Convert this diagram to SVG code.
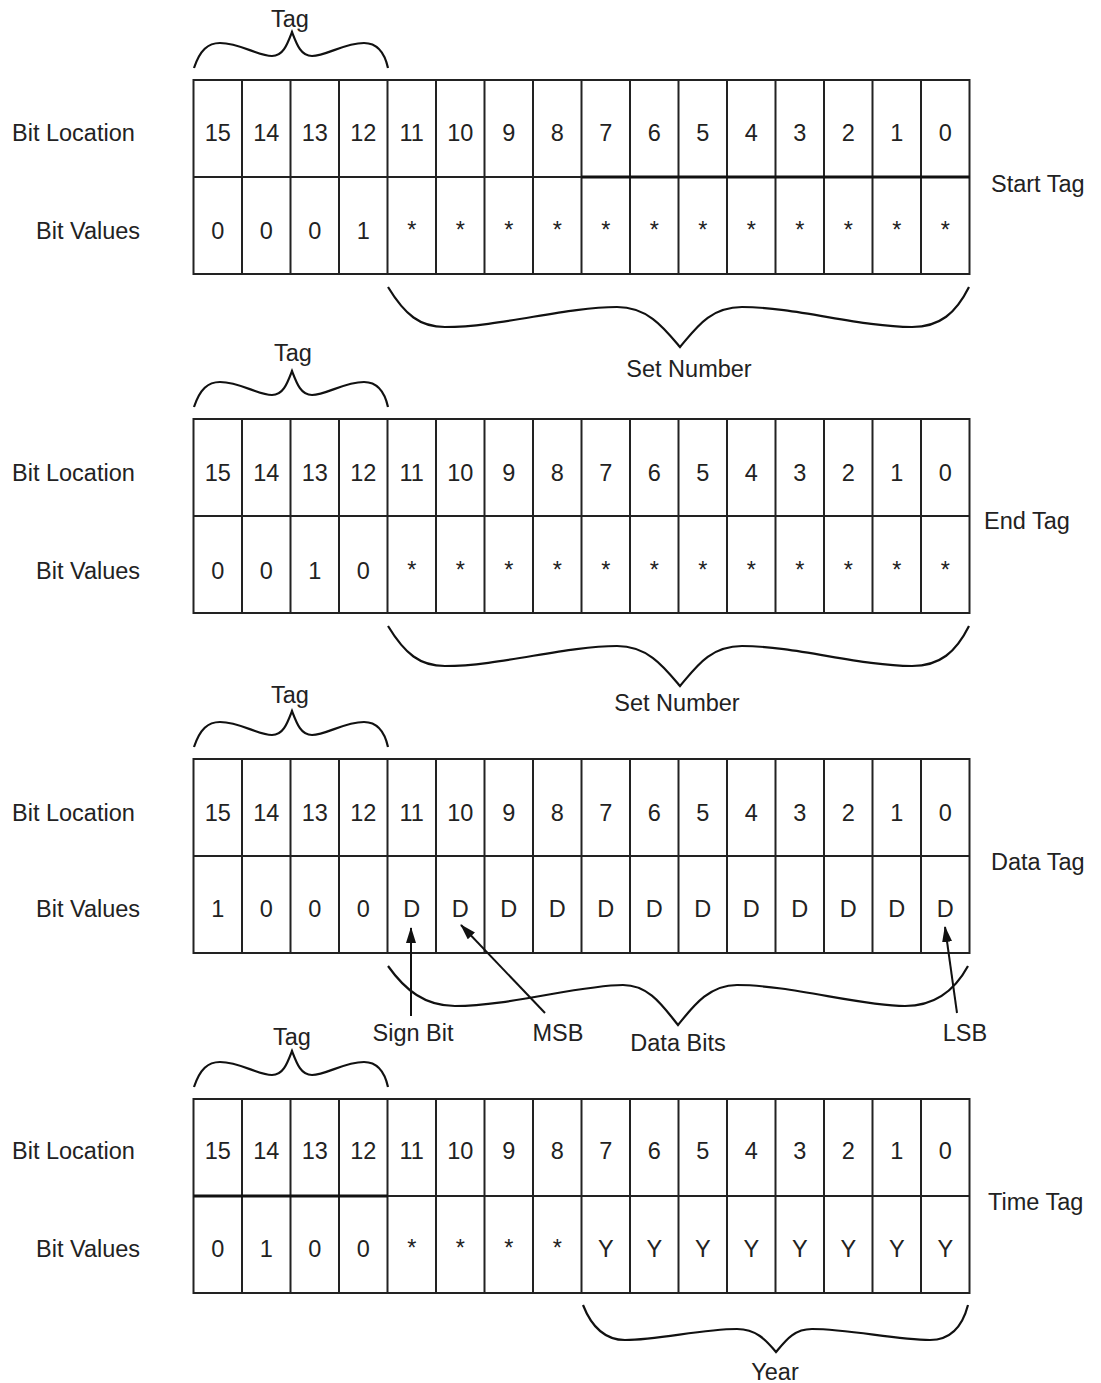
<svg xmlns="http://www.w3.org/2000/svg" xmlns:xlink="http://www.w3.org/1999/xlink" width="1101" height="1383" viewBox="0 0 1101 1383">
<style>
text{font-family:"Liberation Sans",Arial,Helvetica,sans-serif;font-size:23.5px;fill:#222}
.c{text-anchor:middle}
.g{fill:none;stroke:#222;stroke-width:2}
.thick{stroke:#111;stroke-width:3}
.brace{fill:none;stroke:#111;stroke-width:2.2}
.arrow{stroke:#111;stroke-width:2;fill:none;marker-end:url(#ah)}
</style>
<defs>
<marker id="ah" markerWidth="16" markerHeight="10" refX="15" refY="5" orient="auto" markerUnits="userSpaceOnUse">
<path d="M0,0 L16,5 L0,10 Z" fill="#111"/>
</marker>
<g id="grid">
<rect class="g" x="193.5" y="0" width="776" height="194"/>
<path class="g" d="M193.5,97H969.5M242,0V194M290.5,0V194M339,0V194M387.5,0V194M436,0V194M484.5,0V194M533,0V194M581.5,0V194M630,0V194M678.5,0V194M727,0V194M775.5,0V194M824,0V194M872.5,0V194M921,0V194"/>
</g>
<path id="tagbrace" class="brace" d="M194,68 C200,50 208,43 220,43 C240,43 258,56 272,56 C283,56 287,45 292,32 C297,45 301,56 312,56 C326,56 344,43 364,43 C376,43 384,50 388,68"/>
<path id="setbrace" class="brace" d="M388,287 C405,315 420,327 445,327 C500,327 565,307 617,307 C648,307 664,328 680,347 C696,328 710,307 742,307 C795,307 860,327 912,327 C940,327 956,313 969,287"/>
</defs>

<g id="start-tag">
<use xlink:href="#grid" y="80"/>
<path class="thick" d="M581.5,177H969.5"/>
<text x="12" y="141">Bit Location</text>
<text x="36" y="239">Bit Values</text>
<text x="991" y="192">Start Tag</text>
<g class="c">
<text x="217.75" y="141">15</text><text x="266.25" y="141">14</text><text x="314.75" y="141">13</text><text x="363.25" y="141">12</text><text x="411.75" y="141">11</text><text x="460.25" y="141">10</text><text x="508.75" y="141">9</text><text x="557.25" y="141">8</text><text x="605.75" y="141">7</text><text x="654.25" y="141">6</text><text x="702.75" y="141">5</text><text x="751.25" y="141">4</text><text x="799.75" y="141">3</text><text x="848.25" y="141">2</text><text x="896.75" y="141">1</text><text x="945.25" y="141">0</text>
<text x="217.75" y="239">0</text><text x="266.25" y="239">0</text><text x="314.75" y="239">0</text><text x="363.25" y="239">1</text><text x="411.75" y="238">*</text><text x="460.25" y="238">*</text><text x="508.75" y="238">*</text><text x="557.25" y="238">*</text><text x="605.75" y="238">*</text><text x="654.25" y="238">*</text><text x="702.75" y="238">*</text><text x="751.25" y="238">*</text><text x="799.75" y="238">*</text><text x="848.25" y="238">*</text><text x="896.75" y="238">*</text><text x="945.25" y="238">*</text>
</g>
<use xlink:href="#tagbrace"/>
<text class="c" x="290" y="27">Tag</text>
<use xlink:href="#setbrace"/>
<text class="c" x="689" y="377">Set Number</text>
</g>

<g id="end-tag">
<use xlink:href="#grid" y="419"/>
<text x="12" y="481">Bit Location</text>
<text x="36" y="579">Bit Values</text>
<text x="984" y="529">End Tag</text>
<g class="c">
<text x="217.75" y="481">15</text><text x="266.25" y="481">14</text><text x="314.75" y="481">13</text><text x="363.25" y="481">12</text><text x="411.75" y="481">11</text><text x="460.25" y="481">10</text><text x="508.75" y="481">9</text><text x="557.25" y="481">8</text><text x="605.75" y="481">7</text><text x="654.25" y="481">6</text><text x="702.75" y="481">5</text><text x="751.25" y="481">4</text><text x="799.75" y="481">3</text><text x="848.25" y="481">2</text><text x="896.75" y="481">1</text><text x="945.25" y="481">0</text>
<text x="217.75" y="579">0</text><text x="266.25" y="579">0</text><text x="314.75" y="579">1</text><text x="363.25" y="579">0</text><text x="411.75" y="578">*</text><text x="460.25" y="578">*</text><text x="508.75" y="578">*</text><text x="557.25" y="578">*</text><text x="605.75" y="578">*</text><text x="654.25" y="578">*</text><text x="702.75" y="578">*</text><text x="751.25" y="578">*</text><text x="799.75" y="578">*</text><text x="848.25" y="578">*</text><text x="896.75" y="578">*</text><text x="945.25" y="578">*</text>
</g>
<use xlink:href="#tagbrace" y="339"/>
<text class="c" x="293" y="361">Tag</text>
<use xlink:href="#setbrace" y="339"/>
<text class="c" x="677" y="711">Set Number</text>
</g>

<g id="data-tag">
<use xlink:href="#grid" y="759"/>
<text x="12" y="821">Bit Location</text>
<text x="36" y="917">Bit Values</text>
<text x="991" y="870">Data Tag</text>
<g class="c">
<text x="217.75" y="821">15</text><text x="266.25" y="821">14</text><text x="314.75" y="821">13</text><text x="363.25" y="821">12</text><text x="411.75" y="821">11</text><text x="460.25" y="821">10</text><text x="508.75" y="821">9</text><text x="557.25" y="821">8</text><text x="605.75" y="821">7</text><text x="654.25" y="821">6</text><text x="702.75" y="821">5</text><text x="751.25" y="821">4</text><text x="799.75" y="821">3</text><text x="848.25" y="821">2</text><text x="896.75" y="821">1</text><text x="945.25" y="821">0</text>
<text x="217.75" y="917">1</text><text x="266.25" y="917">0</text><text x="314.75" y="917">0</text><text x="363.25" y="917">0</text><text x="411.75" y="917">D</text><text x="460.25" y="917">D</text><text x="508.75" y="917">D</text><text x="557.25" y="917">D</text><text x="605.75" y="917">D</text><text x="654.25" y="917">D</text><text x="702.75" y="917">D</text><text x="751.25" y="917">D</text><text x="799.75" y="917">D</text><text x="848.25" y="917">D</text><text x="896.75" y="917">D</text><text x="945.25" y="917">D</text>
</g>
<use xlink:href="#tagbrace" y="679"/>
<text class="c" x="290" y="703">Tag</text>
<path class="brace" d="M388,966 C405,990 425,1006 455,1006 C510,1006 580,985 623,985 C650,985 664,1008 678,1025 C692,1008 708,985 737,985 C790,985 860,1006 905,1006 C935,1006 955,990 968,966"/>
<text class="c" x="413" y="1041">Sign Bit</text>
<text class="c" x="558" y="1041">MSB</text>
<text class="c" x="678" y="1051">Data Bits</text>
<text class="c" x="965" y="1041">LSB</text>
</g>

<g id="time-tag">
<use xlink:href="#grid" y="1099"/>
<path class="thick" d="M193.5,1196H387.5"/>
<text x="12" y="1159">Bit Location</text>
<text x="36" y="1257">Bit Values</text>
<text x="988" y="1210">Time Tag</text>
<g class="c">
<text x="217.75" y="1159">15</text><text x="266.25" y="1159">14</text><text x="314.75" y="1159">13</text><text x="363.25" y="1159">12</text><text x="411.75" y="1159">11</text><text x="460.25" y="1159">10</text><text x="508.75" y="1159">9</text><text x="557.25" y="1159">8</text><text x="605.75" y="1159">7</text><text x="654.25" y="1159">6</text><text x="702.75" y="1159">5</text><text x="751.25" y="1159">4</text><text x="799.75" y="1159">3</text><text x="848.25" y="1159">2</text><text x="896.75" y="1159">1</text><text x="945.25" y="1159">0</text>
<text x="217.75" y="1257">0</text><text x="266.25" y="1257">1</text><text x="314.75" y="1257">0</text><text x="363.25" y="1257">0</text><text x="411.75" y="1256">*</text><text x="460.25" y="1256">*</text><text x="508.75" y="1256">*</text><text x="557.25" y="1256">*</text><text x="605.75" y="1257">Y</text><text x="654.25" y="1257">Y</text><text x="702.75" y="1257">Y</text><text x="751.25" y="1257">Y</text><text x="799.75" y="1257">Y</text><text x="848.25" y="1257">Y</text><text x="896.75" y="1257">Y</text><text x="945.25" y="1257">Y</text>
</g>
<use xlink:href="#tagbrace" y="1019"/>
<text class="c" x="292" y="1045">Tag</text>
<path class="brace" d="M583,1305 C592,1328 605,1340 625,1340 C660,1340 700,1329 737,1329 C756,1329 766,1340 776,1352 C786,1340 794,1329 812,1329 C850,1329 895,1340 930,1340 C950,1340 962,1328 968,1305"/>
<text class="c" x="775" y="1380">Year</text>
</g>

<g id="connectors">
<path class="arrow" d="M411,1016 L411,928"/>
<path class="arrow" d="M545,1013 L461,925"/>
<path class="arrow" d="M957,1013 L945,927"/>
</g>
</svg>
